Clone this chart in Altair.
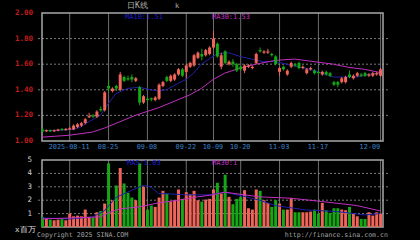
import altair as alt
import pandas as pd

dates = ["07-31","08-01","08-04","08-05","08-06","08-07","08-08","08-11","08-12","08-13","08-14","08-15",
         "08-18","08-19","08-20","08-21","08-22","08-25","08-26","08-27","08-28","08-29","09-01","09-02",
         "09-03","09-04","09-05","09-08","09-09","09-10","09-11","09-12","09-15","09-16","09-17","09-18",
         "09-19","09-22","09-23","09-24","09-25","09-26","09-29","09-30","10-09","10-10","10-13","10-14",
         "10-15","10-16","10-17","10-20","10-21","10-22","10-23","10-24","10-27","10-28","10-29","10-30",
         "10-31","11-03","11-04","11-05","11-06","11-07","11-10","11-11","11-12","11-13","11-14","11-17",
         "11-18","11-19","11-20","11-21","11-24","11-25","11-26","11-27","11-28","12-01","12-02","12-03",
         "12-04","12-05","12-08","12-09"]

opens = [1.09,1.075,1.085,1.075,1.08,1.095,1.085,1.09,1.09,1.11,1.12,1.14,1.185,1.20,1.19,1.25,1.24,1.43,
         1.39,1.43,1.40,1.50,1.49,1.50,1.47,1.42,1.30,1.33,1.335,1.32,1.33,1.43,1.50,1.47,1.48,1.52,1.56,
         1.54,1.58,1.59,1.65,1.68,1.67,1.68,1.73,1.76,1.58,1.70,1.60,1.62,1.60,1.58,1.55,1.58,1.57,1.61,
         1.71,1.69,1.69,1.68,1.66,1.54,1.58,1.52,1.58,1.60,1.61,1.57,1.53,1.56,1.55,1.54,1.52,1.54,1.53,
         1.46,1.46,1.46,1.46,1.52,1.49,1.51,1.52,1.53,1.51,1.51,1.52,1.51]
highs = [1.10,1.09,1.09,1.09,1.095,1.10,1.10,1.11,1.13,1.14,1.15,1.18,1.22,1.21,1.24,1.27,1.39,1.48,
         1.42,1.44,1.54,1.51,1.51,1.52,1.50,1.43,1.36,1.34,1.34,1.35,1.45,1.47,1.51,1.52,1.53,1.57,1.57,
         1.60,1.62,1.68,1.70,1.72,1.72,1.74,1.86,1.77,1.69,1.71,1.63,1.64,1.61,1.59,1.60,1.60,1.59,1.69,
         1.73,1.71,1.72,1.69,1.67,1.58,1.59,1.56,1.62,1.61,1.62,1.59,1.57,1.58,1.56,1.55,1.55,1.55,1.54,
         1.47,1.47,1.50,1.51,1.55,1.52,1.54,1.53,1.54,1.53,1.54,1.54,1.57]
lows = [1.07,1.07,1.07,1.07,1.075,1.08,1.08,1.085,1.085,1.10,1.11,1.13,1.18,1.18,1.18,1.23,1.23,1.39,
        1.38,1.39,1.39,1.46,1.47,1.46,1.46,1.28,1.29,1.30,1.31,1.31,1.32,1.42,1.46,1.46,1.47,1.51,1.50,
        1.49,1.57,1.58,1.64,1.63,1.66,1.67,1.72,1.65,1.56,1.60,1.59,1.58,1.54,1.55,1.53,1.57,1.56,1.60,
        1.69,1.68,1.68,1.66,1.59,1.51,1.55,1.51,1.57,1.58,1.56,1.56,1.52,1.55,1.52,1.52,1.51,1.51,1.50,
        1.43,1.42,1.45,1.45,1.49,1.48,1.50,1.50,1.50,1.50,1.50,1.51,1.50]
closes = [1.075,1.085,1.075,1.085,1.09,1.085,1.095,1.10,1.12,1.13,1.14,1.17,1.195,1.19,1.23,1.24,1.38,1.41,
          1.41,1.41,1.52,1.47,1.48,1.48,1.49,1.30,1.35,1.32,1.325,1.34,1.44,1.46,1.47,1.51,1.52,1.56,1.51,
          1.59,1.61,1.67,1.69,1.66,1.71,1.73,1.80,1.66,1.67,1.61,1.62,1.60,1.55,1.56,1.59,1.59,1.58,1.68,
          1.70,1.70,1.70,1.67,1.60,1.57,1.56,1.55,1.61,1.59,1.57,1.58,1.56,1.57,1.53,1.53,1.54,1.52,1.51,
          1.44,1.44,1.49,1.50,1.50,1.51,1.53,1.51,1.51,1.52,1.53,1.53,1.56]
volumes = [0.75,0.65,0.55,0.5,0.55,0.6,0.5,1.0,0.8,0.85,0.8,1.3,0.75,0.7,1.1,1.2,1.75,4.75,2.0,3.1,
           4.4,3.25,2.55,2.2,2.0,4.75,3.0,1.3,1.6,1.5,2.2,2.7,2.5,1.9,2.0,2.8,2.1,2.6,2.45,2.7,
           2.0,1.9,2.05,2.1,2.8,3.3,2.5,3.9,2.25,1.7,2.1,2.25,2.75,1.4,1.3,2.8,2.7,2.0,1.8,1.5,
           2.0,1.75,1.3,1.3,2.15,1.1,1.1,1.1,1.1,1.15,1.3,1.0,1.8,1.25,1.05,1.4,1.4,1.3,1.25,1.5,
           1.0,0.8,0.6,0.6,1.1,0.85,1.1,1.0]

# moving-average lines (day index, value)
ma_short_idx = [0,5,8,10,12,15,17,19,22,25,28,30,32,35,37,39,41,43,45,48,51,54,57,60,63,66,69,72,75,78,81,84,87]
ma_short_val = [1.08,1.085,1.09,1.11,1.15,1.20,1.29,1.37,1.41,1.42,1.40,1.39,1.40,1.45,1.48,1.53,1.60,1.64,
                1.68,1.69,1.66,1.64,1.62,1.62,1.60,1.58,1.56,1.53,1.50,1.50,1.50,1.52,1.53]
ma_long_idx = [0,7,13,16,20,24,27,30,34,38,41,44,47,51,55,60,65,70,75,79,83,87]
ma_long_val = [1.03,1.045,1.07,1.10,1.15,1.20,1.23,1.26,1.31,1.36,1.41,1.48,1.53,1.57,1.60,1.63,1.64,1.62,
               1.60,1.575,1.56,1.535]
vma_short_idx = [0,7,13,16,19,22,26,28,30,34,37,43,47,51,56,60,68,76,83,87]
vma_short_val = [0.67,0.6,0.75,1.2,2.2,2.6,3.1,3.0,2.5,2.45,2.4,2.4,2.6,2.35,2.0,1.6,1.27,1.15,0.9,1.0]
vma_long_idx = [0,15,17,20,25,30,35,40,44,47,56,64,72,81,87]
vma_long_val = [0.6,0.75,1.05,1.35,1.5,1.8,2.0,2.25,2.4,2.6,2.25,2.15,1.9,1.6,1.2]

tick_dates = ["08-11","08-25","09-08","09-22","10-09","10-20","11-03","11-17","12-09"]
tick_labels = ["2025-08-11","08-25","09-08","09-22","10-09","10-20","11-03","11-17","12-09"]
price_ticks = [1.0, 1.2, 1.4, 1.6, 1.8, 2.0]
price_grid = [1.2, 1.4, 1.6, 1.8]
vol_ticks = [1, 2, 3, 4, 5]
vol_grid = [1, 2, 3, 4]

RED = "#f0645a"
GREEN = "#14a814"
BLUE = "#2020a8"
MAG = "#c030c0"
GRID = "#7a7a7a"
VGRID = "#8a8a8a"
FRAME = "#a8a8a8"
FONT = "DejaVu Sans Mono"

W, H = 351, 240
XMAX = 87.75

df = pd.DataFrame({"i": list(range(len(dates))), "d": dates, "o": opens, "h": highs,
                   "l": lows, "c": closes, "v": volumes})
tick_idx = [dates.index(d) for d in tick_dates]
ticks = pd.DataFrame({"i": tick_idx, "lab": tick_labels})
ticks_main = ticks.iloc[:-1]
ticks_last = ticks.iloc[-1:]
frame_p = pd.DataFrame({"x0": [0], "x1": [XMAX], "y0": [1.0], "y1": [2.0]})
frame_v = pd.DataFrame({"x0": [0], "x1": [XMAX], "y0": [0], "y1": [5]})

xs = alt.Scale(domain=[0, XMAX], nice=False, zero=False)
ps = alt.Scale(domain=[1.0, 2.0], range=[141, 13], nice=False, zero=False)
vs = alt.Scale(domain=[0, 5], range=[227, 160], nice=False, zero=False)

X = lambda f: alt.X(f, type="quantitative", scale=xs, axis=None)
YP = lambda f: alt.Y(f, type="quantitative", scale=ps, axis=None)
YV = lambda f: alt.Y(f, type="quantitative", scale=vs, axis=None)
col = alt.condition("datum.c >= datum.o", alt.value(RED), alt.value(GREEN))

tick_filter = alt.FieldOneOfPredicate(field="d", oneOf=tick_dates)

# ---------- price panel ----------
p_hgrid = alt.Chart(pd.DataFrame({"y": price_grid})).mark_rule(
    color=GRID, strokeDash=[2, 2], strokeWidth=1).encode(y=YP("y"))
# vertical grid: built from the day rows that carry a date label
p_vgrid = alt.Chart(df).transform_filter(tick_filter).transform_calculate(
    gy0=str(price_ticks[0]), gy1=str(price_ticks[-1])
).mark_bar(size=1, xOffset=0.5, color=VGRID, opacity=0.8).encode(
    x=X("i"), y=YP("gy0"), y2="gy1")
p_frame = alt.Chart(frame_p).mark_rect(fillOpacity=0, stroke=FRAME, strokeWidth=1.5).encode(
    x=X("x0"), x2="x1", y=YP("y0"), y2="y1")
p_ma_s = alt.Chart(pd.DataFrame({"i": ma_short_idx, "v": ma_short_val})).mark_line(
    color=BLUE, strokeWidth=1).encode(x=X("i"), y=YP("v"))
p_ma_l = alt.Chart(pd.DataFrame({"i": ma_long_idx, "v": ma_long_val})).mark_line(
    color=MAG, strokeWidth=1).encode(x=X("i"), y=YP("v"))
wicks = alt.Chart(df).mark_rule(strokeWidth=1, xOffset=0.5).encode(
    x=X("i"), y=YP("l"), y2="h", color=col)
bodies = alt.Chart(df).mark_bar(size=3, xOffset=0.5).encode(
    x=X("i"), y=YP("o"), y2="c", color=col)
p_labels = alt.Chart(pd.DataFrame({"y": price_ticks})).mark_text(
    align="right", baseline="middle", font=FONT, fontSize=7.5, fontWeight="bold", color="#c41c1c"
).encode(x=alt.value(-4), y=YP("y"), text=alt.Text("y:Q", format=".2f"))
x_labels = alt.Chart(ticks_main).mark_text(
    align="center", baseline="middle", font=FONT, fontSize=6.8, color="#3c82c8"
).encode(x=X("i"), y=alt.value(147), text="lab:N")
x_label_last = alt.Chart(ticks_last).mark_text(
    align="right", baseline="middle", font=FONT, fontSize=6.8, color="#3c82c8"
).encode(x=X("i"), y=alt.value(147), text="lab:N")

price = alt.layer(p_hgrid, p_vgrid, p_frame, p_ma_s, p_ma_l, wicks, bodies, p_labels,
                  x_labels, x_label_last)

# ---------- volume panel ----------
v_hgrid = alt.Chart(pd.DataFrame({"y": vol_grid})).mark_rule(
    color=GRID, strokeDash=[2, 2], strokeWidth=1).encode(y=YV("y"))
v_vgrid = alt.Chart(df).transform_filter(tick_filter).transform_calculate(
    gy0="0", gy1=str(vol_ticks[-1])
).mark_bar(size=1, xOffset=0.5, color=VGRID, opacity=0.8).encode(
    x=X("i"), y=YV("gy0"), y2="gy1")
v_frame = alt.Chart(frame_v).mark_rect(fillOpacity=0, stroke=FRAME, strokeWidth=1.5).encode(
    x=X("x0"), x2="x1", y=YV("y0"), y2="y1")
v_bars = alt.Chart(df).mark_bar(size=3, xOffset=0.5).encode(x=X("i"), y=YV("v"), color=col)
v_ma_s = alt.Chart(pd.DataFrame({"i": vma_short_idx, "v": vma_short_val})).mark_line(
    color=BLUE, strokeWidth=1).encode(x=X("i"), y=YV("v"))
v_ma_l = alt.Chart(pd.DataFrame({"i": vma_long_idx, "v": vma_long_val})).mark_line(
    color=MAG, strokeWidth=1).encode(x=X("i"), y=YV("v"))
v_labels = alt.Chart(pd.DataFrame({"y": vol_ticks})).mark_text(
    align="right", baseline="middle", font=FONT, fontSize=7.5, color="#d0d0d0"
).encode(x=alt.value(-5), y=YV("y"), text="y:Q")

volume = alt.layer(v_hgrid, v_vgrid, v_frame, v_bars, v_ma_s, v_ma_l, v_labels)

# ---------- static texts ----------
def txt(s, x, y, color, align="left", size=7):
    return alt.Chart(pd.DataFrame({"t": [s]})).mark_text(
        align=align, baseline="middle", font=FONT, fontSize=size, color=color
    ).encode(x=alt.value(x), y=alt.value(y), text="t:N")

texts = alt.layer(
    txt("日K线", 90, 6, "#b0b0b0", size=8),
    txt("k", 138, 6, "#b0b0b0", size=7),
    txt("MA10:1.51", 88, 17, "#1c1cd0", size=7),
    txt("MA30:1.53", 175, 17, MAG, size=7),
    txt("MA5:1.03", 90, 163, "#1c1cd0", size=7),
    txt("MA30:1", 175, 163, MAG, size=7),
    txt("x百万", -22, 230, "#e0e0e0", size=7.5),
    txt("Copyright 2025 SINA.COM", 0, 235, "#a0a0a0", size=6.6),
    txt("http://finance.sina.com.cn", W, 235, "#a0a0a0", align="right", size=6.6),
)

chart = alt.layer(price, volume, texts).resolve_scale(y="independent").properties(
    width=W, height=H,
    autosize=alt.AutoSizeParams(type="none"),
    padding={"left": 37, "top": 0, "right": 32, "bottom": 0},
).configure(background="black").configure_view(stroke=None)

chart.save("out.html", embed_options={"renderer": "svg", "actions": False})
